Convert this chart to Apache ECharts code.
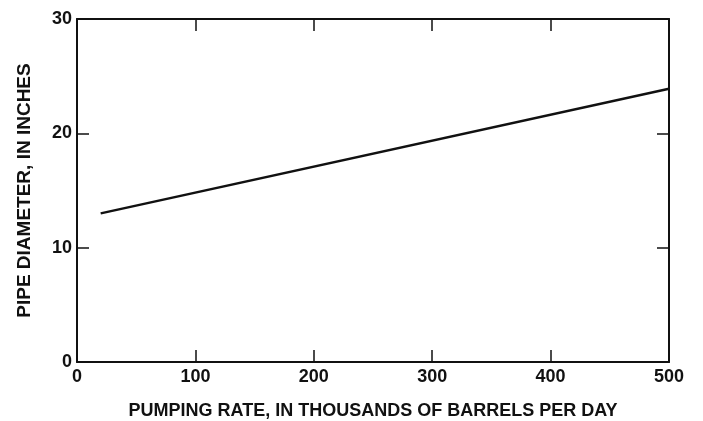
<!DOCTYPE html>
<html>
<head>
<meta charset="utf-8">
<script src="https://cdn.jsdelivr.net/npm/echarts@6/dist/echarts.min.js"></script>
<style>
  html, body { margin: 0; padding: 0; background: #fff; }
  #chart { width: 703px; height: 421px; }
</style>
</head>
<body>
<div id="chart"></div>
<script>
// Pumping rate (thousands of barrels per day) vs. pipe diameter (inches)
const pumpingRate = [20, 500];
const pipeDiameter = [13, 23.9];

const xTicks = [0, 100, 200, 300, 400, 500];
const yTicks = [0, 10, 20, 30];

const FONT = 'Liberation Sans, Arial, Helvetica, sans-serif';
const INK = '#111';

const chart = echarts.init(document.getElementById('chart'), null, { renderer: 'canvas' });

const axisBase = {
  type: 'value',
  splitLine: { show: false },
  axisLine: { show: true, onZero: false, lineStyle: { color: INK, width: 2 } },
  axisTick: { show: true, inside: true, length: 12, lineStyle: { color: INK, width: 1.5 } }
};

chart.setOption({
  animation: false,
  backgroundColor: '#fff',
  grid: { left: 77, right: 34, top: 19, bottom: 59, outerBoundsMode: 'none', containLabel: false },
  xAxis: [
    Object.assign({}, axisBase, {
      position: 'bottom',
      min: xTicks[0], max: xTicks[xTicks.length - 1], interval: 100,
      name: 'PUMPING RATE, IN THOUSANDS OF BARRELS PER DAY',
      nameLocation: 'middle', nameGap: 40,
      nameTextStyle: { fontFamily: FONT, fontSize: 18, fontWeight: 'bold', color: INK },
      axisLabel: { fontFamily: FONT, fontSize: 18, fontWeight: 'bold', color: INK, margin: 6 }
    }),
    Object.assign({}, axisBase, {
      position: 'top',
      min: xTicks[0], max: xTicks[xTicks.length - 1], interval: 100,
      axisLabel: { show: false }
    })
  ],
  yAxis: [
    Object.assign({}, axisBase, {
      position: 'left',
      min: yTicks[0], max: yTicks[yTicks.length - 1], interval: 10,
      name: 'PIPE DIAMETER, IN INCHES',
      nameLocation: 'middle', nameGap: 43,
      nameTextStyle: { fontFamily: FONT, fontSize: 19, fontWeight: 'bold', color: INK },
      axisLabel: { fontFamily: FONT, fontSize: 18, fontWeight: 'bold', color: INK, margin: 5 }
    }),
    Object.assign({}, axisBase, {
      position: 'right',
      min: yTicks[0], max: yTicks[yTicks.length - 1], interval: 10,
      axisLabel: { show: false }
    })
  ],
  series: [{
    type: 'line',
    xAxisIndex: 0,
    yAxisIndex: 0,
    data: pumpingRate.map((x, i) => [x, pipeDiameter[i]]),
    showSymbol: false,
    lineStyle: { color: INK, width: 2.5 }
  }]
});
</script>
</body>
</html>
